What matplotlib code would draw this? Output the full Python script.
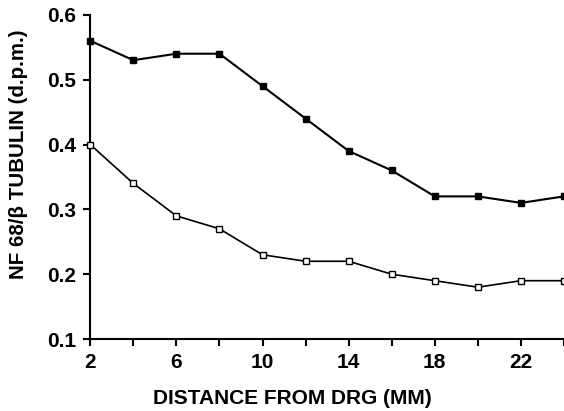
import matplotlib
matplotlib.use("Agg")
import matplotlib.pyplot as plt
import numpy as np

# Data
DISTANCE = [2, 4, 6, 8, 10, 12, 14, 16, 18, 20, 22, 24]
FILLED = [0.56, 0.53, 0.54, 0.54, 0.49, 0.44, 0.39, 0.36, 0.32, 0.32, 0.31, 0.32]
OPEN = [0.40, 0.34, 0.29, 0.27, 0.23, 0.22, 0.22, 0.20, 0.19, 0.18, 0.19, 0.19]
X_TICKS = [2, 4, 6, 8, 10, 12, 14, 16, 18, 20, 22, 24]
X_LABELS = ['2', '', '6', '', '10', '', '14', '', '18', '', '22', '']
Y_TICKS = [0.1, 0.2, 0.3, 0.4, 0.5, 0.6]

plt.rcParams['font.family'] = ['Liberation Sans', 'DejaVu Sans']
plt.rcParams['font.weight'] = 'bold'

fig = plt.figure(figsize=(5.64, 4.11), dpi=100)
ax = fig.add_axes([0.16, 0.175, 0.84, 0.789])

ax.plot(DISTANCE, FILLED, color='black', linewidth=1.5, marker='s', markersize=5,
        markerfacecolor='black', markeredgecolor='black', clip_on=False, zorder=3)
ax.plot(DISTANCE, OPEN, color='black', linewidth=1.2, marker='s', markersize=5,
        markerfacecolor='white', markeredgecolor='black', clip_on=False, zorder=3)

ax.set_xlim(2, 24)
ax.set_ylim(0.1, 0.6)
ax.set_xticks(X_TICKS)
ax.set_xticklabels(X_LABELS)
ax.set_yticks(Y_TICKS)
ax.set_yticklabels([f'{v:.1f}' for v in Y_TICKS])
ax.tick_params(direction='out', length=5, width=1.5, labelsize=15, pad=5)

for side in ['top', 'right']:
    ax.spines[side].set_visible(False)
for side in ['left', 'bottom']:
    ax.spines[side].set_linewidth(1.5)

# the original figure was cropped on the right, so labels sit off-centre
ax.set_xlabel('DISTANCE FROM DRG (MM)', fontsize=15, fontweight='bold')
ax.xaxis.set_label_coords(0.426, -0.155)
ax.set_ylabel('NF 68/\u03b2 TUBULIN (d.p.m.)', fontsize=14.8, fontweight='bold')
ax.yaxis.set_label_coords(-0.131, 0.571)

fig.savefig('out.png', dpi=100)
